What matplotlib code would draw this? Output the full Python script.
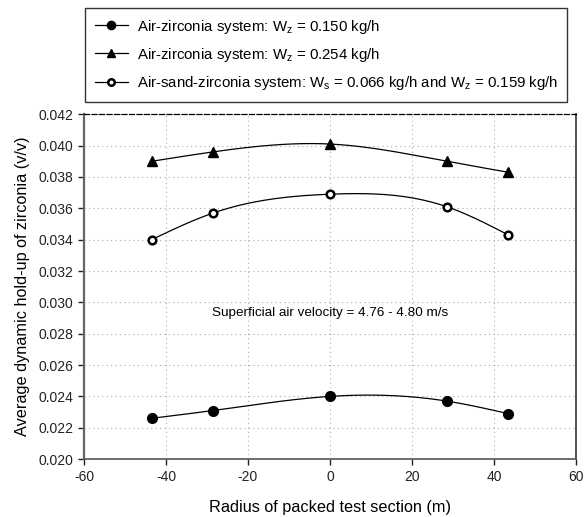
import matplotlib
matplotlib.use("Agg")
import matplotlib.pyplot as plt
import numpy as np

plt.rcParams["font.family"] = ["Liberation Sans", "DejaVu Sans"]

# radial positions (same for all series)
radius = [-43.5, -28.5, 0.0, 28.5, 43.5]

# hold-up values
holdup_wz150 = [0.0226, 0.0231, 0.0240, 0.0237, 0.0229]
holdup_wz254 = [0.0390, 0.0396, 0.0401, 0.0390, 0.0383]
holdup_sand = [0.0340, 0.0357, 0.0369, 0.0361, 0.0343]

labels = [
    r"Air-zirconia system: W$_{\mathregular{z}}$ = 0.150 kg/h",
    r"Air-zirconia system: W$_{\mathregular{z}}$ = 0.254 kg/h",
    r"Air-sand-zirconia system: W$_{\mathregular{s}}$ = 0.066 kg/h and W$_{\mathregular{z}}$ = 0.159 kg/h",
]

x_ticks = [-60, -40, -20, 0, 20, 40, 60]
y_ticks = [0.020, 0.022, 0.024, 0.026, 0.028, 0.030, 0.032, 0.034, 0.036, 0.038, 0.040, 0.042]


def smooth_curve(x, y, n=200):
    """Natural cubic spline through the points, only used to draw the line."""
    x = np.asarray(x, float)
    y = np.asarray(y, float)
    k = len(x)
    h = np.diff(x)
    A = np.zeros((k, k))
    b = np.zeros(k)
    A[0, 0] = A[-1, -1] = 1.0
    for i in range(1, k - 1):
        A[i, i - 1] = h[i - 1]
        A[i, i] = 2 * (h[i - 1] + h[i])
        A[i, i + 1] = h[i]
        b[i] = 6 * ((y[i + 1] - y[i]) / h[i] - (y[i] - y[i - 1]) / h[i - 1])
    m = np.linalg.solve(A, b)
    xs = np.linspace(x[0], x[-1], n)
    ys = np.empty_like(xs)
    for j, xv in enumerate(xs):
        i = min(np.searchsorted(x, xv, side="right") - 1, k - 2)
        t1 = x[i + 1] - xv
        t0 = xv - x[i]
        ys[j] = (m[i] * t1 ** 3 + m[i + 1] * t0 ** 3) / (6 * h[i]) \
            + (y[i] / h[i] - m[i] * h[i] / 6) * t1 \
            + (y[i + 1] / h[i] - m[i + 1] * h[i] / 6) * t0
    return xs, ys


fig = plt.figure(figsize=(5.84, 5.17), dpi=100)
ax = fig.add_axes([0.1438, 0.112, 0.8425, 0.667])

series = [
    (holdup_wz150, dict(marker="o", markersize=7, markerfacecolor="black", markeredgecolor="black")),
    (holdup_wz254, dict(marker="^", markersize=7, markerfacecolor="black", markeredgecolor="black")),
    (holdup_sand, dict(marker="o", markersize=5.5, markerfacecolor="white", markeredgecolor="black",
                       markeredgewidth=1.8)),
]

handles = []
for (vals, mk), lab in zip(series, labels):
    xs, ys = smooth_curve(radius, vals)
    ax.plot(xs, ys, color="black", linewidth=0.9, zorder=2)
    ax.plot(radius, vals, linestyle="none", zorder=3, **mk)
    # legend handles use slightly smaller markers, as in the original
    mk_leg = dict(mk, markersize=mk["markersize"] * 0.85)
    h, = ax.plot([], [], color="black", linewidth=0.9, **mk_leg)
    handles.append(h)

ax.set_xlim(-60, 60)
ax.set_ylim(0.020, 0.042)
ax.set_xticks(x_ticks)
ax.set_yticks(y_ticks)
ax.set_xticklabels([str(v) for v in x_ticks])
ax.set_yticklabels([f"{v:.3f}" for v in y_ticks])
ax.tick_params(direction="out", length=4, width=1, labelsize=10, colors="#222222")
ax.grid(True, linestyle=(0, (1, 3)), color="#aaaaaa", linewidth=0.8)
ax.set_axisbelow(True)

ax.spines["left"].set_color("#666666")
ax.spines["left"].set_linewidth(1.6)
ax.spines["bottom"].set_color("#555555")
ax.spines["bottom"].set_linewidth(1.2)
ax.spines["right"].set_color("#333333")
ax.spines["right"].set_linewidth(1.2)
ax.spines["top"].set_linestyle((0, (4, 2)))
ax.spines["top"].set_linewidth(0.9)

ax.set_xlabel("Radius of packed test section (m)", fontsize=11.7, labelpad=12)
ax.set_ylabel("Average dynamic hold-up of zirconia (v/v)", fontsize=11.7, labelpad=6)

ax.text(0, 0.0293, "Superficial air velocity = 4.76 - 4.80 m/s", ha="center", va="center", fontsize=9.7)

leg = fig.legend(handles, labels, loc="upper left", bbox_to_anchor=(0.1455, 0.985),
                 fontsize=10.8, frameon=True, fancybox=False, edgecolor="black",
                 handlelength=2.2, handletextpad=0.6, borderpad=0.65, labelspacing=0.68,
                 borderaxespad=0)
leg.get_frame().set_linewidth(1.0)

fig.savefig("out.png", dpi=100)
